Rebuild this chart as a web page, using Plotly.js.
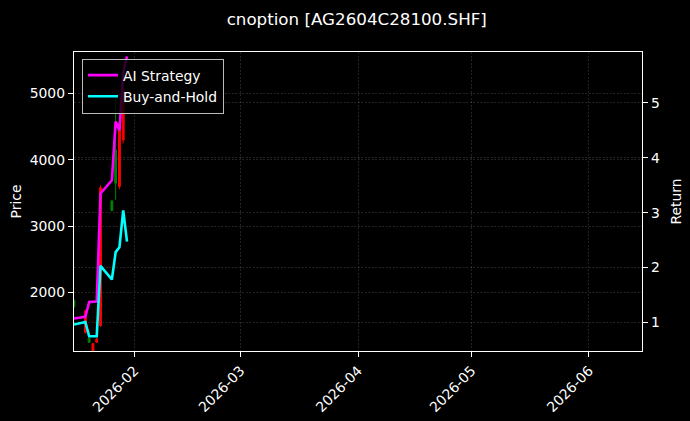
<!DOCTYPE html>
<html>
<head>
<meta charset="utf-8">
<script src="https://cdn.plot.ly/plotly-3.0.1.min.js"></script>
<style>
  html, body { margin: 0; padding: 0; background: #000; }
  #myDiv { width: 690px; height: 421px; }
</style>
</head>
<body>
<div id="myDiv"></div>
<script>
// trading days shown in the chart
var dates = ['2026-01-16', '2026-01-19', '2026-01-20', '2026-01-21', '2026-01-22',
             '2026-01-23', '2026-01-26', '2026-01-27', '2026-01-28', '2026-01-29',
             '2026-01-30'];

// option prices (left axis)
var openP  = [1880, 1400, 1310, 1090, 1250, 1500, 3380, 4150, 3600, 4300, null];
var highP  = [1900, 1740, 1320, 1240, 1320, 3620, 3400, 4950, 4580, 5100, null];
var lowP   = [1770, 1380, 1240, 1000, 1240, 1480, 3220, 3400, 3560, 4250, null];
var closeP = [1790, 1720, 1250, 1230, 1300, 3580, 3240, 3650, 4550, 5050, null];

// cumulative returns (right axis)
var aiReturn = [1.07, 1.10, 1.37, 1.37, 1.38, 3.35, 3.59, 4.66, 4.50, 5.55, 5.85];
var bhReturn = [0.96, 1.005, 0.745, 0.745, 0.745, 2.03, 1.78, 2.28, 2.37, 3.04, 2.47];

var fontFam = 'DejaVu Sans, sans-serif';

var candles = {
    type: 'candlestick',
    x: dates,
    open: openP,
    high: highP,
    low: lowP,
    close: closeP,
    // chinese convention: red is up, green is down
    increasing: {line: {color: '#ff0000', width: 1}, fillcolor: '#ff0000'},
    decreasing: {line: {color: '#008000', width: 1}, fillcolor: '#008000'},
    whiskerwidth: 0,
    showlegend: false,
    hoverinfo: 'skip',
    yaxis: 'y'
};

var aiLine = {
    type: 'scatter',
    mode: 'lines',
    x: dates,
    y: aiReturn,
    name: 'AI Strategy',
    line: {color: '#ff00ff', width: 2.6},
    yaxis: 'y2'
};

var bhLine = {
    type: 'scatter',
    mode: 'lines',
    x: dates,
    y: bhReturn,
    name: 'Buy-and-Hold',
    line: {color: '#00ffff', width: 2.6},
    yaxis: 'y2'
};

var gridCol = 'rgba(255,255,255,0.22)';
var gridDash = '2px,1.5px';

var layout = {
    width: 690,
    height: 421,
    paper_bgcolor: '#000',
    plot_bgcolor: '#000',
    font: {family: fontFam, size: 13.9, color: '#fff'},
    margin: {l: 74, r: 48, t: 52, b: 70, pad: 0},
    title: {
        text: 'cnoption [AG2604C28100.SHF]',
        font: {family: fontFam, size: 16.7, color: '#fff'},
        x: 0.517,
        xanchor: 'center',
        y: 0.955,
        yanchor: 'middle'
    },
    showlegend: true,
    legend: {
        x: 0.014, y: 0.978,
        xanchor: 'left', yanchor: 'top',
        bgcolor: 'rgba(0,0,0,0.8)',
        bordercolor: '#bbbbbb',
        borderwidth: 1,
        font: {family: fontFam, size: 13.9, color: '#fff'},
        tracegroupgap: 2
    },
    xaxis: {
        type: 'date',
        range: ['2026-01-16', '2026-06-15'],
        rangeslider: {visible: false},
        tickvals: ['2026-02-01', '2026-03-01', '2026-04-01', '2026-05-01', '2026-06-01'],
        ticktext: ['2026-02', '2026-03', '2026-04', '2026-05', '2026-06'],
        tickangle: -45,
        ticks: 'outside', ticklen: 5, tickcolor: '#fff', tickwidth: 1,
        showgrid: true, gridcolor: gridCol, griddash: gridDash, gridwidth: 0.6,
        showline: true, linecolor: '#fff', linewidth: 1.2, mirror: true,
        zeroline: false
    },
    yaxis: {
        title: {text: 'Price', font: {family: fontFam, size: 13.9, color: '#fff'}, standoff: 4},
        range: [1119, 5627],
        dtick: 1000,
        tick0: 0,
        tickformat: 'd',
        ticks: 'outside', ticklen: 5, tickcolor: '#fff', tickwidth: 1,
        showgrid: true, gridcolor: gridCol, griddash: gridDash, gridwidth: 0.6,
        showline: true, linecolor: '#fff', linewidth: 1.2,
        zeroline: false
    },
    yaxis2: {
        title: {text: 'Return', font: {family: fontFam, size: 13.9, color: '#fff'}, standoff: 12},
        overlaying: 'y',
        side: 'right',
        anchor: 'x',
        range: [0.476, 5.93],
        dtick: 1,
        tick0: 0,
        ticks: 'outside', ticklen: 5, tickcolor: '#fff', tickwidth: 1,
        showgrid: true, gridcolor: gridCol, griddash: gridDash, gridwidth: 0.6,
        showline: true, linecolor: '#fff', linewidth: 1.2,
        zeroline: false
    }
};

Plotly.newPlot('myDiv', [candles, aiLine, bhLine], layout, {displayModeBar: false, staticPlot: true});
</script>
</body>
</html>
